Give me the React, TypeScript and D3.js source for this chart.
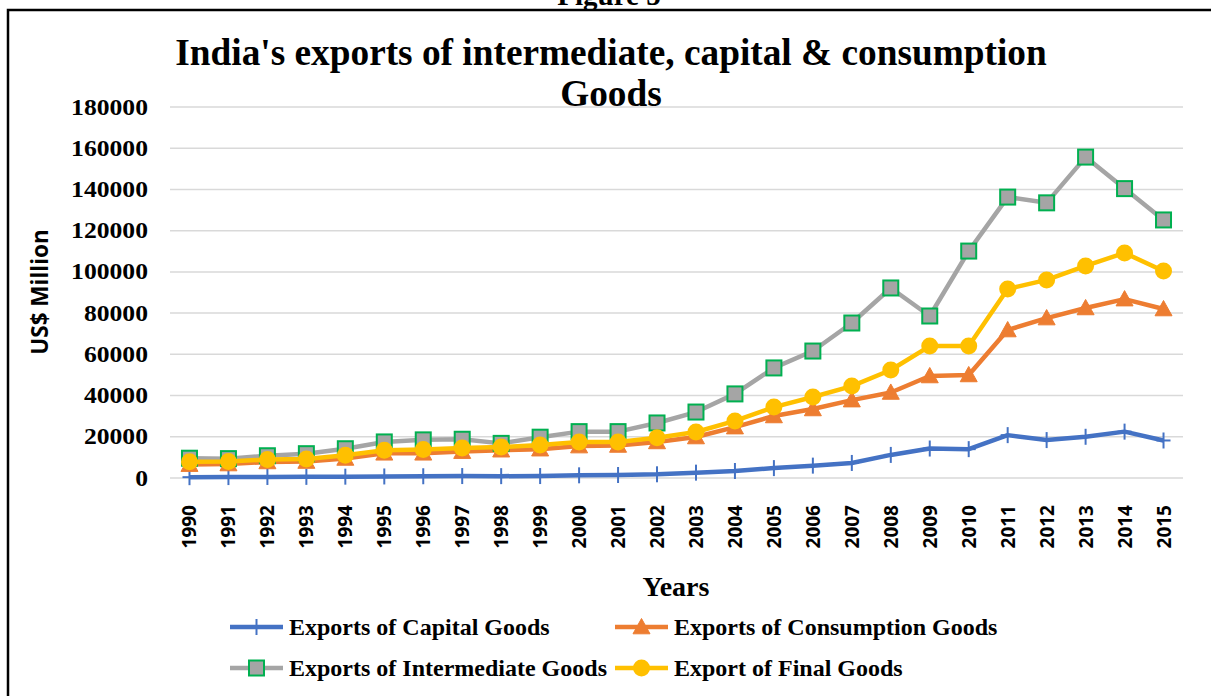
import React from "react";
import * as d3 from "d3";

const years = [1990,1991,1992,1993,1994,1995,1996,1997,1998,1999,2000,2001,2002,2003,2004,2005,2006,2007,2008,2009,2010,2011,2012,2013,2014,2015];
const capitalGoods = [400,450,500,550,650,750,850,950,900,950,1300,1450,1800,2600,3400,4800,6000,7300,11200,14300,14000,20800,18400,20000,22500,18200];
const consumptionGoods = [6500,6800,7800,8000,9500,12000,12000,12800,13500,14000,15500,15800,17500,19900,24700,30100,33500,37800,41500,49500,50000,71800,77600,82500,86800,82000];
const intermediateGoods = [9600,9400,10800,11800,14200,17500,18500,18800,16800,19800,22500,22500,26700,32000,40800,53400,61600,75200,92200,78600,110100,136300,133500,155700,140400,125200];
const finalGoods = [7900,8000,9000,9200,11000,13500,13800,14500,15000,16000,17500,17500,19500,22300,27700,34400,39300,44600,52400,64000,64000,91700,96100,102900,109200,100400];
const yTicks = [0,20000,40000,60000,80000,100000,120000,140000,160000,180000];
const seriesNames = ["Exports of Capital Goods","Exports of Consumption Goods","Exports of Intermediate Goods","Export of Final Goods"];

const BLUE = "#4472C4", ORANGE = "#ED7D31", GRAY = "#A5A5A5", YELLOW = "#FFC000", GREEN = "#00B050";
const SERIF = "'Liberation Serif', 'Times New Roman', serif";
const SANS = "'Open Sans', 'Liberation Sans', sans-serif";

function Marker({ kind, x, y }: { kind: string; x: number; y: number }) {
  if (kind === "plus") {
    return (
      <g stroke={BLUE} strokeWidth={2}>
        <line x1={x} x2={x} y1={y - 8} y2={y + 8} />
        <line x1={x - 7} x2={x + 7} y1={y} y2={y} />
      </g>
    );
  }
  if (kind === "tri") {
    const s = 8.5;
    return <path d={`M${x},${y - s}L${x + s},${y + s * 0.8}L${x - s},${y + s * 0.8}Z`} fill={ORANGE} stroke={ORANGE} strokeWidth={1} />;
  }
  if (kind === "square") {
    return <rect x={x - 7.5} y={y - 7.5} width={15} height={15} fill={GRAY} stroke={GREEN} strokeWidth={2} />;
  }
  return <circle cx={x} cy={y} r={8.5} fill={YELLOW} />;
}

export default function App() {
  const W = 1211, H = 696;
  const x = d3.scaleBand<number>().domain(years).range([170, 1183]);
  const y = d3.scaleLinear().domain([0, 180000]).range([478, 107]);
  const cx = (yr: number) => (x(yr) as number) + x.bandwidth() / 2;

  const series = [
    { name: seriesNames[0], data: capitalGoods, color: BLUE, kind: "plus" },
    { name: seriesNames[1], data: consumptionGoods, color: ORANGE, kind: "tri" },
    { name: seriesNames[2], data: intermediateGoods, color: GRAY, kind: "square" },
    { name: seriesNames[3], data: finalGoods, color: YELLOW, kind: "circle" },
  ];

  const line = d3.line<number>().x((_, i) => cx(years[i])).y((d) => y(d));

  const legendPos = [
    { lx: 230, ly: 627 },
    { lx: 615, ly: 627 },
    { lx: 230, ly: 668 },
    { lx: 615, ly: 668 },
  ];

  return (
    <svg width={W} height={H} style={{ position: "absolute", left: 0, top: 0, background: "#fff" }}>
      <rect x={0} y={0} width={W} height={H} fill="#fff" />
      <rect x={8} y={10} width={1215} height={700} fill="none" stroke="#000" strokeWidth={2.5} />
      <text x={609} y={5} textAnchor="middle" fontFamily={SERIF} fontWeight="bold" fontSize={29}>Figure 5</text>

      <text x={611} y={65} textAnchor="middle" fontFamily={SERIF} fontWeight="bold" fontSize={37.3}>India's exports of intermediate, capital &amp; consumption</text>
      <text x={611} y={106} textAnchor="middle" fontFamily={SERIF} fontWeight="bold" fontSize={37.3}>Goods</text>

      {yTicks.map((t) => (
        <g key={t}>
          <line x1={170} x2={1183} y1={y(t)} y2={y(t)} stroke="#D9D9D9" strokeWidth={1.5} />
          <text transform={`translate(148,${y(t) + 7.5}) scale(1.14,1)`} textAnchor="end" fontFamily={SERIF} fontWeight="bold" fontSize={22.5}>{t}</text>
        </g>
      ))}

      <text transform={`translate(48,292) rotate(-90)`} textAnchor="middle" fontFamily={SANS} fontWeight="bold" fontSize={22.5}>US$ Million</text>

      {years.map((yr) => (
        <text key={yr} transform={`translate(${cx(yr) + 7},505) rotate(-90)`} textAnchor="end" fontFamily={SANS} fontWeight="bold" fontSize={19}>{yr}</text>
      ))}

      <text x={676} y={596} textAnchor="middle" fontFamily={SERIF} fontWeight="bold" fontSize={28}>Years</text>

      {series.map((s) => (
        <g key={s.name}>
          <path d={line(s.data) || ""} fill="none" stroke={s.color} strokeWidth={4.5} strokeLinejoin="round" />
          {s.data.map((v, i) => (
            <Marker key={i} kind={s.kind} x={cx(years[i])} y={y(v)} />
          ))}
        </g>
      ))}

      {series.map((s, i) => {
        const p = legendPos[i];
        return (
          <g key={"lg" + i}>
            <line x1={p.lx} x2={p.lx + 53} y1={p.ly} y2={p.ly} stroke={s.color} strokeWidth={4.5} />
            <Marker kind={s.kind} x={p.lx + 26.5} y={p.ly} />
            <text x={p.lx + 59} y={p.ly + 8} fontFamily={SERIF} fontWeight="bold" fontSize={24}>{s.name}</text>
          </g>
        );
      })}
    </svg>
  );
}
